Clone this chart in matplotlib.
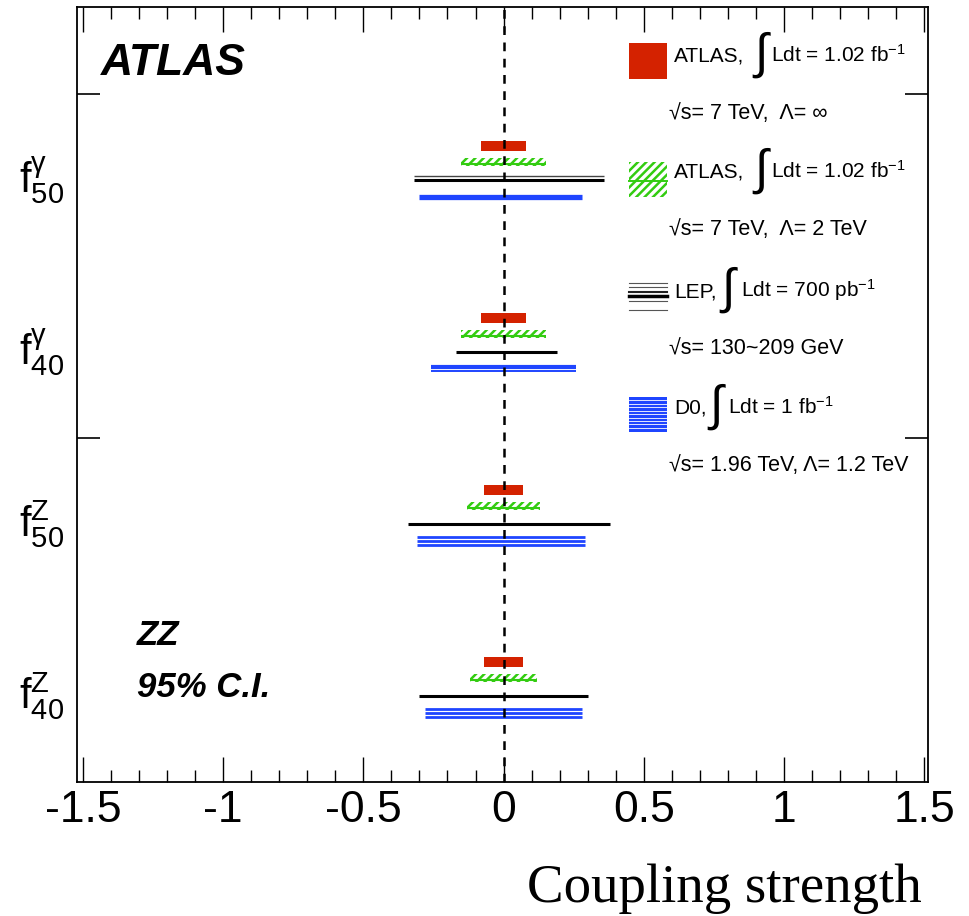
import numpy as np
import matplotlib
import matplotlib.pyplot as plt
from matplotlib.patches import Rectangle
from matplotlib.lines import Line2D

matplotlib.rcParams['font.family'] = ['Liberation Sans', 'DejaVu Sans']
matplotlib.rcParams['mathtext.fontset'] = 'custom'
matplotlib.rcParams['mathtext.rm'] = 'Liberation Sans'
matplotlib.rcParams['mathtext.it'] = 'Liberation Sans:italic'
matplotlib.rcParams['hatch.linewidth'] = 1.8

# couplings, bottom to top
labels = [r'$\mathrm{f^{Z}_{40}}$', r'$\mathrm{f^{Z}_{50}}$',
          r'$\mathrm{f^{γ}_{40}}$', r'$\mathrm{f^{γ}_{50}}$']
ypos = np.array([0.5, 1.5, 2.5, 3.5])

# 95% C.I. limits (low, high)
atlas_inf_lo = [-0.07, -0.07, -0.08, -0.08]
atlas_inf_hi = [0.07, 0.07, 0.08, 0.08]
atlas_2tev_lo = [-0.12, -0.13, -0.15, -0.15]
atlas_2tev_hi = [0.12, 0.13, 0.15, 0.15]
lep_lo = [-0.30, -0.34, -0.17, -0.32]
lep_hi = [0.30, 0.38, 0.19, 0.36]
d0_lo = [-0.28, -0.31, -0.26, -0.30]
d0_hi = [0.28, 0.29, 0.26, 0.28]

red = '#d42200'
green = '#33cc11'
blue = '#1f45ff'

W, H = 969, 916
fig = plt.figure(figsize=(W / 100, H / 100), dpi=100)
ax = fig.add_axes([77 / W, 1 - 782 / H, 851 / W, 775 / H])

def fx(px):
    return px / W

def fy(py):
    return 1 - py / H

# ATLAS, Lambda = inf
ax.barh(ypos + 0.2, np.subtract(atlas_inf_hi, atlas_inf_lo), left=atlas_inf_lo,
        height=0.058, color=red, linewidth=0, zorder=3)
# ATLAS, Lambda = 2 TeV
ax.barh(ypos + 0.105, np.subtract(atlas_2tev_hi, atlas_2tev_lo), left=atlas_2tev_lo,
        height=0.045, facecolor='white', edgecolor=green, hatch='////',
        linewidth=0, zorder=3)
ax.hlines(ypos + 0.093, atlas_2tev_lo, atlas_2tev_hi, color=green, lw=1.5, zorder=3)
# LEP
ax.hlines(ypos, lep_lo, lep_hi, color='black', lw=2.2, zorder=3)
ax.hlines(ypos[3] + 0.025, lep_lo[3], lep_hi[3], color='#444444', lw=1.0, zorder=3)
# D0 (striped)
stripes = [[0.022, 0.0, -0.022], [0.022, 0.0, -0.022], [0.01, -0.012], [0.0]]
widths = [[2.0, 2.0, 2.0], [2.0, 2.0, 2.0], [3.0, 1.4], [3.8]]
for i in range(4):
    for off, lw in zip(stripes[i], widths[i]):
        ax.hlines(ypos[i] - 0.1 + off, d0_lo[i], d0_hi[i], color=blue, lw=lw, zorder=3)

ax.axvline(0, color='black', lw=1.8, linestyle=(0, (3.5, 3)), zorder=4)

ax.set_xlim(-1.5214, 1.514)
ax.set_ylim(0, 4.506)
ax.set_xticks([-1.5, -1, -0.5, 0, 0.5, 1, 1.5])
ax.set_xticklabels(['-1.5', '-1', '-0.5', '0', '0.5', '1', '1.5'])
ax.set_xticks(np.arange(-1.5, 1.51, 0.1), minor=True)
ax.set_yticks([2, 4])
ax.set_yticklabels([])
ax.tick_params(axis='x', which='major', direction='in', length=18, width=1,
               top=True, labelsize=32, pad=6)
ax.tick_params(axis='x', which='minor', direction='in', length=8.5, width=1, top=True)
ax.tick_params(axis='y', which='major', direction='in', length=16.5, width=1.2,
               right=True)
for s in ax.spines.values():
    s.set_linewidth(1.3)

for y, lab in zip(ypos, labels):
    ax.text(-0.068, y, lab, transform=ax.get_yaxis_transform(), fontsize=30,
            ha='left', va='center')

fig.text(fx(101), fy(75), 'ATLAS', fontsize=32, fontweight='bold',
         fontstyle='italic', va='baseline')
fig.text(fx(137), fy(645), 'ZZ', fontsize=25, fontweight='bold',
         fontstyle='italic', va='baseline')
fig.text(fx(137), fy(697), '95% C.I.', fontsize=25, fontweight='bold',
         fontstyle='italic', va='baseline')

fig.text(fx(922), fy(902), 'Coupling strength', family='Liberation Serif',
         fontsize=39.5, ha='right', va='baseline')

# legend
entries = [
    ('ATLAS,', 754, 'Ldt = 1.02 fb$^{-1}$', 771, '√s= 7 TeV,  Λ= ∞'),
    ('ATLAS,', 754, 'Ldt = 1.02 fb$^{-1}$', 771, '√s= 7 TeV,  Λ= 2 TeV'),
    ('LEP,', 721, 'Ldt = 700 pb$^{-1}$', 741, '√s= 130~209 GeV'),
    ('D0,', 709, 'Ldt = 1 fb$^{-1}$', 728, '√s= 1.96 TeV, Λ= 1.2 TeV'),
]
bases = [62, 178, 297, 414]
for (name, xi, lum, xl, line2), b in zip(entries, bases):
    fig.text(fx(674), fy(b), name, fontsize=15, va='baseline')
    fig.text(fx(xi), fy(b + 6), '∫', family='Liberation Sans', fontsize=35,
             va='baseline')
    fig.text(fx(xl), fy(b), lum, fontsize=15, va='baseline')
    fig.text(fx(669), fy(b + 57), line2, fontsize=15.5, va='baseline')

def frect(x0, y0, x1, y1, **kw):
    fig.add_artist(Rectangle((fx(x0), fy(y1)), fx(x1) - fx(x0), fy(y0) - fy(y1),
                             transform=fig.transFigure, **kw))

def fline(x0, x1, y, **kw):
    fig.add_artist(Line2D([fx(x0), fx(x1)], [fy(y), fy(y)], transform=fig.transFigure, **kw))

frect(629, 43, 667, 79, color=red, linewidth=0)
frect(629, 162, 667, 197, facecolor='white', edgecolor=green, hatch='////', linewidth=0)
fline(629, 667, 181, color=green, lw=1.4)
for yy, lw, c in [(283, 0.8, '#555555'), (287, 0.8, '#555555'), (292, 1.5, '#222222'),
                  (296, 2.5, 'black'), (301, 0.8, '#555555'), (309.5, 0.8, '#555555')]:
    fline(629, 667, yy, color=c, lw=lw)
frect(629, 397, 667, 432, color=blue, linewidth=0)
for yy in np.arange(400, 431, 3.5):
    fline(629, 667, yy, color='white', lw=0.6)

fig.savefig('out.png', dpi=100)
